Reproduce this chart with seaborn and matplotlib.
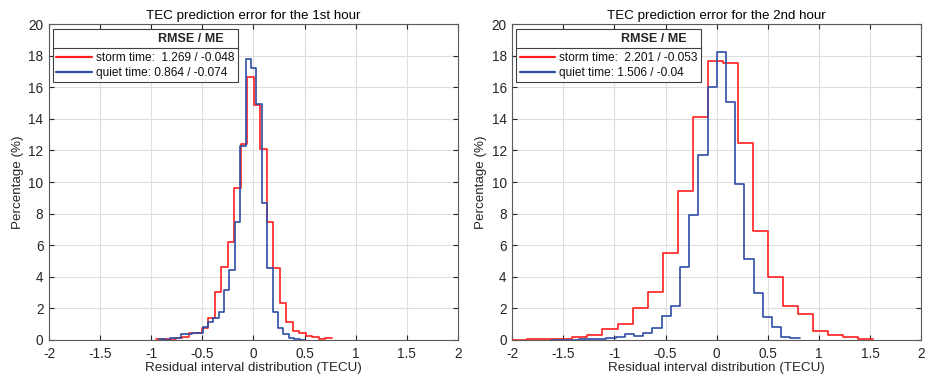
import numpy as np
import pandas as pd
import matplotlib
matplotlib.use("Agg")
import matplotlib.pyplot as plt
from matplotlib.lines import Line2D
import seaborn as sns

# ==========================================================
# Data (percentages per residual bin)
# ==========================================================

# 1st hour
h1_storm_start = -0.952
h1_storm_width = 0.0637
h1_storm_pct = [0.02, 0.02, 0.04, 0.08, 0.19, 0.40, 0.44, 0.72, 1.40, 3.00,
                4.63, 6.17, 9.64, 12.39, 16.68, 14.88, 12.09, 7.48, 4.52, 2.30,
                1.10, 0.58, 0.44, 0.23, 0.15, 0.03, 0.08]

h1_quiet_start = -0.920
h1_quiet_width = 0.0527
h1_quiet_pct = [0.06, 0.00, 0.08, 0.10, 0.38, 0.38, 0.44, 0.44, 0.82, 1.10,
                1.37, 1.78, 3.15, 4.45, 7.44, 12.30, 17.80, 17.20, 14.93, 8.65,
                4.52, 1.75, 0.75, 0.34, 0.08, 0.02, 0.01]

# 2nd hour
h2_storm_start = -2.0
h2_storm_width = 0.1471
h2_storm_pct = [0.01, 0.03, 0.04, 0.07, 0.20, 0.32, 0.71, 1.02, 1.98, 3.04,
                5.50, 9.40, 14.14, 17.70, 17.57, 12.49, 6.89, 4.00, 2.14, 1.60,
                0.58, 0.30, 0.20, 0.07]

h2_quiet_start = -1.62
h2_quiet_width = 0.09
h2_quiet_pct = [0.01, 0.01, 0.01, 0.02, 0.02, 0.03, 0.08, 0.20, 0.39, 0.26,
                0.41, 0.73, 1.52, 2.13, 4.63, 7.90, 11.70, 16.00, 18.27, 15.10,
                9.85, 5.10, 2.98, 1.46, 0.78, 0.20, 0.08]

titles = ["TEC prediction error for the 1st hour",
          "TEC prediction error for the 2nd hour"]
storm_labels = ["storm time:  1.269 / -0.048", "storm time:  2.201 / -0.053"]
quiet_labels = ["quiet time: 0.864 / -0.074", "quiet time: 1.506 / -0.04"]

x_ticks = [-2, -1.5, -1, -0.5, 0, 0.5, 1, 1.5, 2]
y_ticks = [0, 2, 4, 6, 8, 10, 12, 14, 16, 18, 20]

RED = "#ff1f1f"
BLUE = "#2f4da6"
DARK = "#262626"

# ==========================================================
# Style
# ==========================================================

sns.set_theme(style="whitegrid")
plt.rcParams["font.family"] = ["Liberation Sans", "DejaVu Sans"]
plt.rcParams["axes.unicode_minus"] = False


def to_frame(start, width, pct):
    edges = start + width * np.arange(len(pct) + 1)
    centers = (edges[:-1] + edges[1:]) / 2
    return pd.DataFrame({"x": centers, "pct": pct}), edges.tolist()


fig = plt.figure(figsize=(9.28, 3.77), dpi=100)
ax1 = fig.add_axes([0.0528, 0.0989, 0.4407, 0.8366])
ax2 = fig.add_axes([0.5520, 0.0989, 0.4407, 0.8366])

panels = [
    (ax1, (h1_storm_start, h1_storm_width, h1_storm_pct),
     (h1_quiet_start, h1_quiet_width, h1_quiet_pct)),
    (ax2, (h2_storm_start, h2_storm_width, h2_storm_pct),
     (h2_quiet_start, h2_quiet_width, h2_quiet_pct)),
]

legends = []
for i, (ax, storm, quiet) in enumerate(panels):
    df_s, e_s = to_frame(*storm)
    df_q, e_q = to_frame(*quiet)

    sns.histplot(data=df_s, x="x", weights="pct", bins=e_s, element="step",
                 fill=False, color=RED, linewidth=1.2, ax=ax, zorder=3)
    sns.histplot(data=df_q, x="x", weights="pct", bins=e_q, element="step",
                 fill=False, color=BLUE, linewidth=1.2, ax=ax, zorder=4)

    ax.set_xlim(-2, 2)
    ax.set_ylim(0, 20)
    ax.set_xticks(x_ticks)
    ax.set_xticklabels([f"{t:g}" for t in x_ticks])
    ax.set_yticks(y_ticks)
    ax.grid(True, color="#dedede", linewidth=0.8)
    ax.set_axisbelow(True)
    ax.tick_params(axis="both", direction="in", top=True, right=True,
                   length=3.5, width=0.8, color=DARK, labelcolor=DARK,
                   labelsize=9.8, bottom=True, left=True)
    ax.tick_params(axis="x", pad=5)
    ax.tick_params(axis="y", pad=4)
    for sp in ax.spines.values():
        sp.set_color("#5a5a5a")
        sp.set_linewidth(0.8)

    ax.set_title(titles[i], fontsize=9.6, color="black", pad=4)
    ax.set_xlabel("Residual interval distribution (TECU)", fontsize=9.6,
                  color=DARK, labelpad=1)
    ax.set_ylabel("Percentage (%)", fontsize=9.6, color=DARK, labelpad=3)

    handles = [Line2D([], [], color=RED, lw=1.6),
               Line2D([], [], color=BLUE, lw=1.6)]
    leg = ax.legend(handles, [storm_labels[i], quiet_labels[i]],
                    loc="upper left", bbox_to_anchor=(0.009, 0.985),
                    borderaxespad=0, frameon=True, fancybox=False,
                    edgecolor="#404040", framealpha=1, fontsize=8.6,
                    handlelength=3.0, handletextpad=0.3, borderpad=0.3,
                    labelspacing=0.22, title="RMSE / ME   ",
                    title_fontproperties={"weight": "bold", "size": 9},
                    alignment="right")
    leg.get_frame().set_linewidth(0.8)
    leg._legend_box.sep = 5.5
    for t in leg.get_texts():
        t.set_color("#111111")
    legends.append(leg)

# separator line under the legend title
fig.canvas.draw()
renderer = fig.canvas.get_renderer()
inv = fig.transFigure.inverted()
for leg in legends:
    box = leg.get_window_extent(renderer)
    tbox = leg.get_title().get_window_extent(renderer)
    ebox = leg.get_texts()[0].get_window_extent(renderer)
    y = (tbox.y0 + ebox.y1) / 2
    (x0, yy), (x1, _) = inv.transform([(box.x0, y), (box.x1, y)])
    fig.add_artist(Line2D([x0, x1], [yy, yy], transform=fig.transFigure,
                          color="#404040", lw=0.8, zorder=10))

fig.savefig("out.png", dpi=100)
